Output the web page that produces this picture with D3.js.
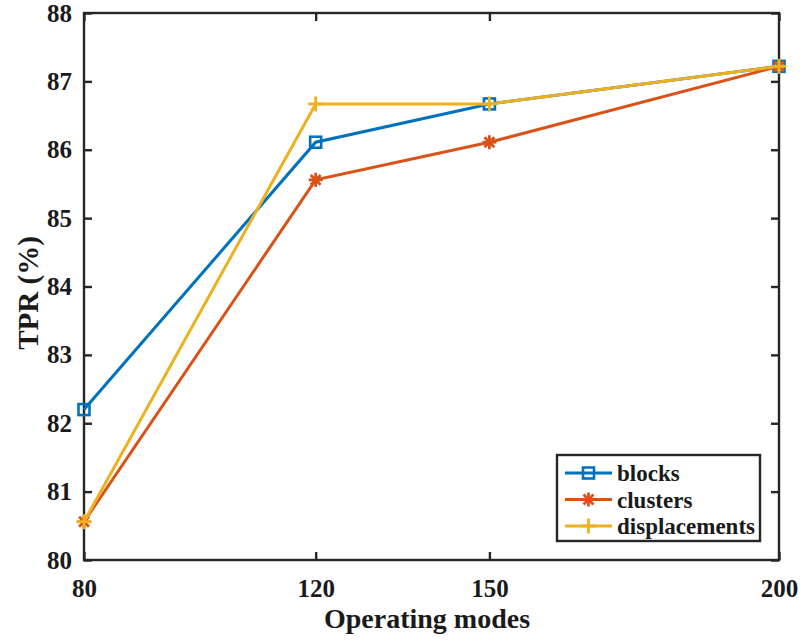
<!DOCTYPE html>
<html>
<head>
<meta charset="utf-8">
<script src="https://cdn.jsdelivr.net/npm/d3@7"></script>
<style>
  body { margin: 0; background: #fff; }
  svg text { font-family: "Liberation Serif", "Times New Roman", serif; font-weight: bold; }
</style>
</head>
<body>
<svg id="chart" width="802" height="641"></svg>
<script>
var modes = [80, 120, 150, 200]
var blocks = [82.2, 86.11, 86.67, 87.22]
var clusters = [80.56, 85.56, 86.11, 87.22]
var displacements = [80.56, 86.67, 86.67, 87.22]
var yTicks = [80, 81, 82, 83, 84, 85, 86, 87, 88]

var series = [
	{name: "blocks", values: blocks, color: "#0072BD", marker: "square"},
	{name: "clusters", values: clusters, color: "#D95319", marker: "star"},
	{name: "displacements", values: displacements, color: "#EDB120", marker: "plus"}
]

var svg = d3.select("#chart")
var pLeft = 84, pRight = 779, pTop = 13, pBottom = 560

var x_scale = d3.scaleLinear().domain([80, 200]).range([pLeft, pRight])
var y_scale = d3.scaleLinear().domain([80, 88]).range([pBottom, pTop])

var axisColor = "#262626"

// box
svg.append("rect")
	.attr("x", pLeft).attr("y", pTop)
	.attr("width", pRight - pLeft).attr("height", pBottom - pTop)
	.attr("fill", "none").attr("stroke", axisColor).attr("stroke-width", 2.4)

// axes, ticks pointing inward like matlab
var gx = svg.append("g").attr("transform", "translate(0," + pBottom + ")")
	.call(d3.axisBottom(x_scale).tickValues(modes).tickSize(-8).tickPadding(19).tickFormat(d3.format("d")))
var gxt = svg.append("g").attr("transform", "translate(0," + pTop + ")")
	.call(d3.axisTop(x_scale).tickValues(modes).tickSize(-8).tickFormat(""))
var gy = svg.append("g").attr("transform", "translate(" + pLeft + ",0)")
	.call(d3.axisLeft(y_scale).tickValues(yTicks).tickSize(-8).tickPadding(12).tickFormat(d3.format("d")))
var gyr = svg.append("g").attr("transform", "translate(" + pRight + ",0)")
	.call(d3.axisRight(y_scale).tickValues(yTicks).tickSize(-8).tickFormat(""))

;[gx, gxt, gy, gyr].forEach(function(g) {
	g.select(".domain").remove()
	g.attr("font-family", null).attr("font-size", null)
	g.selectAll(".tick line").attr("stroke", axisColor).attr("stroke-width", 2.4)
	g.selectAll(".tick text").attr("fill", "#1a1a1a").attr("font-size", 25)
})
gx.selectAll(".tick text").attr("dy", "0.71em")

// axis labels
svg.append("text")
	.attr("x", 427).attr("y", 628)
	.attr("text-anchor", "middle").attr("font-size", 28).attr("fill", "#1a1a1a")
	.text("Operating modes")
svg.append("text")
	.attr("transform", "translate(38,293) rotate(-90)")
	.attr("text-anchor", "middle").attr("font-size", 29).attr("fill", "#1a1a1a")
	.text("TPR (%)")

var line = d3.line()
	.x(function(d, i) { return x_scale(modes[i]) })
	.y(function(d) { return y_scale(d) })

function drawMarker(g, type, color, cx, cy) {
	if (type == "square") {
		g.append("rect").attr("x", cx - 5.5).attr("y", cy - 5.5).attr("width", 11).attr("height", 11)
			.attr("fill", "none").attr("stroke", color).attr("stroke-width", 2.6)
	} else if (type == "star") {
		var r = 7
		var sym = g.append("g").attr("transform", "translate(" + cx + "," + cy + ")")
		;[0, 45, 90, 135].forEach(function(a) {
			var rad = a * Math.PI / 180
			sym.append("line")
				.attr("x1", -r * Math.cos(rad)).attr("y1", -r * Math.sin(rad))
				.attr("x2", r * Math.cos(rad)).attr("y2", r * Math.sin(rad))
				.attr("stroke", color).attr("stroke-width", 2.8)
		})
	} else {
		var r2 = 7.5
		g.append("line").attr("x1", cx - r2).attr("x2", cx + r2).attr("y1", cy).attr("y2", cy)
			.attr("stroke", color).attr("stroke-width", 2.8)
		g.append("line").attr("x1", cx).attr("x2", cx).attr("y1", cy - r2).attr("y2", cy + r2)
			.attr("stroke", color).attr("stroke-width", 2.8)
	}
}

series.forEach(function(s) {
	var g = svg.append("g")
	g.append("path")
		.datum(s.values)
		.attr("fill", "none")
		.attr("stroke", s.color)
		.attr("stroke-width", 3)
		.attr("d", line)
	s.values.forEach(function(v, i) {
		drawMarker(g, s.marker, s.color, x_scale(modes[i]), y_scale(v))
	})
})

// legend
var legend = svg.append("g")
legend.append("rect")
	.attr("x", 557).attr("y", 455).attr("width", 203).attr("height", 86)
	.attr("fill", "#fff").attr("stroke", axisColor).attr("stroke-width", 2.4)
series.forEach(function(s, i) {
	var ly = 473 + i * 26.5
	legend.append("line").attr("x1", 565).attr("x2", 612).attr("y1", ly).attr("y2", ly)
		.attr("stroke", s.color).attr("stroke-width", 3)
	drawMarker(legend, s.marker, s.color, 588.5, ly)
	legend.append("text").attr("x", 617).attr("y", ly).attr("dy", "0.35em")
		.attr("font-size", 23).attr("fill", "#1a1a1a").text(s.name)
})
</script>
</body>
</html>
